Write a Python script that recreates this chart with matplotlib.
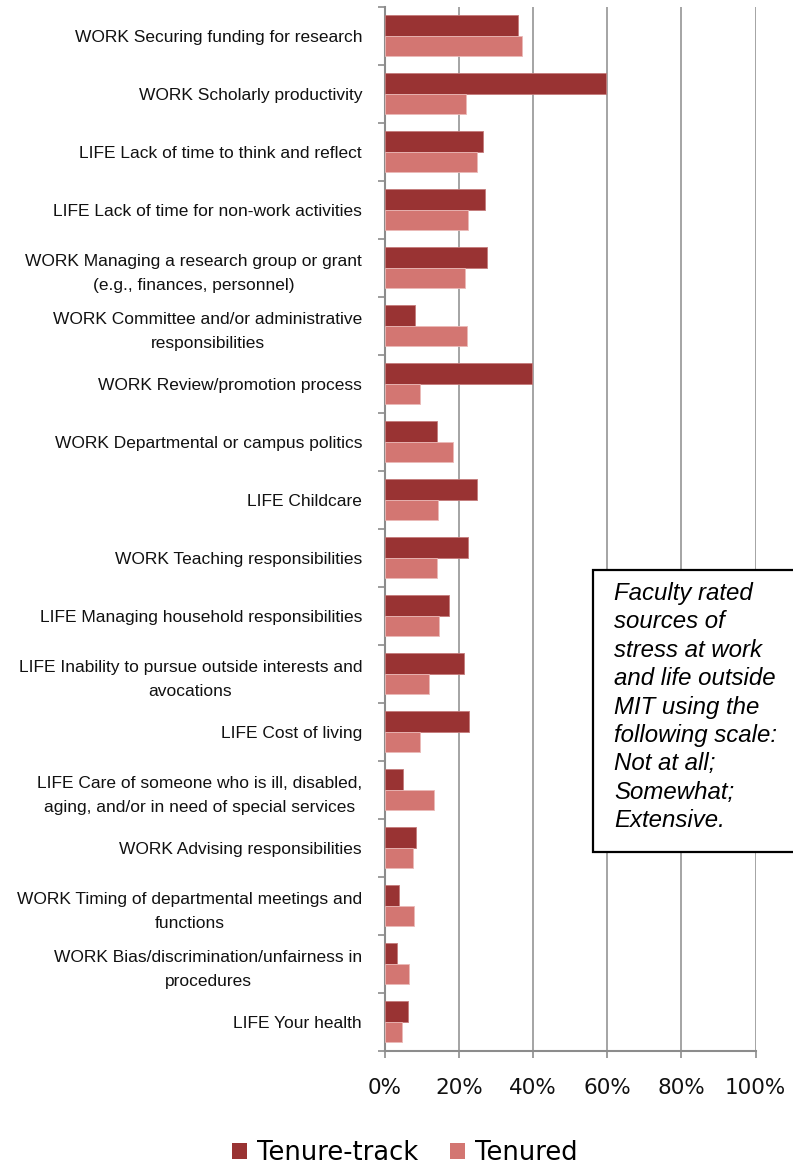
import numpy as np
import matplotlib
matplotlib.use("Agg")
import matplotlib.pyplot as plt
from matplotlib.patches import Patch, Rectangle

# --- data (share of faculty rating "Extensive") ---
categories = [
    "WORK Securing funding for research",
    "WORK Scholarly productivity",
    "LIFE Lack of time to think and reflect",
    "LIFE Lack of time for non-work activities",
    "WORK Managing a research group or grant\n(e.g., finances, personnel)",
    "WORK Committee and/or administrative\nresponsibilities",
    "WORK Review/promotion process",
    "WORK Departmental or campus politics",
    "LIFE Childcare",
    "WORK Teaching responsibilities",
    "LIFE Managing household responsibilities",
    "LIFE Inability to pursue outside interests and\navocations",
    "LIFE Cost of living",
    "LIFE Care of someone who is ill, disabled,\naging, and/or in need of special services",
    "WORK Advising responsibilities",
    "WORK Timing of departmental meetings and\nfunctions",
    "WORK Bias/discrimination/unfairness in\nprocedures",
    "LIFE Your health",
]
tenure_track = [36.0, 59.6, 26.5, 27.1, 27.4, 8.2, 39.8, 14.0, 24.9, 22.5,
                17.4, 21.2, 22.8, 4.9, 8.5, 3.7, 3.2, 6.2]
tenured = [37.1, 21.8, 24.7, 22.4, 21.6, 22.1, 9.4, 18.3, 14.3, 14.0,
           14.7, 12.0, 9.4, 13.3, 7.6, 7.7, 6.5, 4.7]
series_names = ["Tenure-track", "Tenured"]
x_ticks = [0, 20, 40, 60, 80, 100]
note = ("Faculty rated\nsources of\nstress at work\nand life outside\n"
        "MIT using the\nfollowing scale:\nNot at all;\nSomewhat;\nExtensive.")
# ---------------------------------------------------------------------------

C_TT = "#993333"
C_TEN = "#d37672"
GRID = "#8c8c8c"

W, H = 793, 1167
fig = plt.figure(figsize=(W / 100, H / 100), dpi=100)
ax = fig.add_axes([385 / W, (H - 1050.7) / H, 370.5 / W, (1050.7 - 6.7) / H])

n = len(categories)
centers = np.arange(n) + 0.5
bh = 0.357
ax.barh(centers - bh / 2, tenure_track, height=bh, color=C_TT,
        edgecolor="#c47b7b", linewidth=0.6, zorder=3)
ax.barh(centers + bh / 2, tenured, height=bh, color=C_TEN,
        edgecolor="#ebb9b7", linewidth=0.6, zorder=3)

ax.set_xlim(0, 100)
ax.set_ylim(n, 0)
ax.set_xticks(x_ticks)
ax.set_xticklabels([f"{v}%" for v in x_ticks], fontsize=15.5,
                   family="DejaVu Sans", color="#111111")
ax.tick_params(axis="x", length=5, width=1.2, color=GRID, pad=15)

# narrow labels in the original; plain Liberation Sans sized to the same width
ax.set_yticks(centers)
ax.set_yticklabels(categories, fontsize=12.5, family="Liberation Sans",
                   color="#111111", linespacing=1.72)
for lab in ax.get_yticklabels():
    lab.set_multialignment("center")
ax.tick_params(axis="y", which="major", length=0, pad=16.5)
ax.set_yticks(np.arange(n + 1), minor=True)
ax.tick_params(axis="y", which="minor", length=5, width=1.2, color=GRID)

ax.grid(axis="x", color=GRID, linewidth=1.1, zorder=0)
ax.set_axisbelow(True)
for s in ["top", "right"]:
    ax.spines[s].set_visible(False)
for s in ["left", "bottom"]:
    ax.spines[s].set_color(GRID)
    ax.spines[s].set_linewidth(1.5)

# note box, partly running off the right edge as in the original
box = Rectangle((593 / W, (H - 852) / H), 0.4, (852 - 570) / H,
                transform=fig.transFigure, facecolor="white",
                edgecolor="black", linewidth=1.6, zorder=5, clip_on=False)
fig.add_artist(box)
fig.text(614 / W, (H - 582) / H, note, ha="left", va="top", fontsize=17.3,
         style="italic", family="Liberation Sans", linespacing=1.3,
         zorder=6)

handles = [Patch(facecolor=C_TT), Patch(facecolor=C_TEN)]
fig.legend(handles, series_names, loc="center", bbox_to_anchor=(405 / W, (H - 1153) / H),
           ncol=2, frameon=False, prop={"family": "DejaVu Sans", "size": 18.5},
           handlelength=0.58, handleheight=0.58, handletextpad=0.39,
           columnspacing=1.24, borderpad=0, borderaxespad=0)

fig.savefig("out.png", dpi=100)
